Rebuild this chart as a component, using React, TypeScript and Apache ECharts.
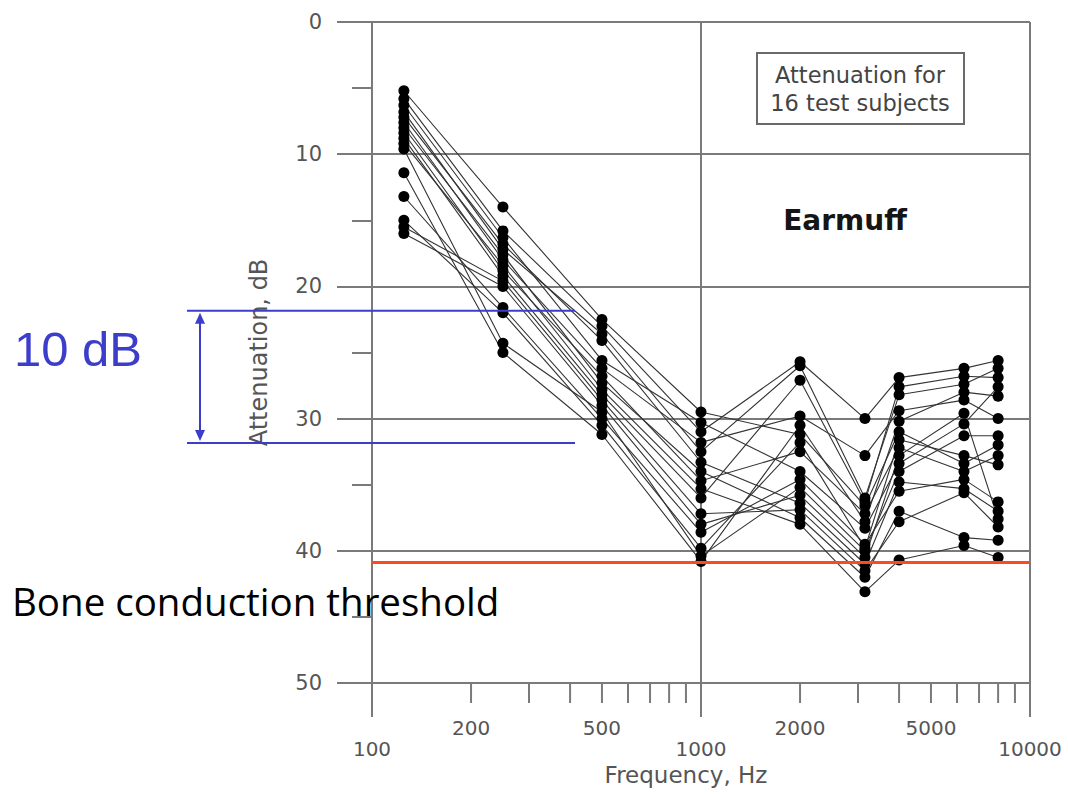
import React, { useEffect, useRef } from "react";
import * as echarts from "echarts";

// Test frequencies (Hz) at which attenuation was measured
const frequencies = [125, 250, 500, 1000, 2000, 3150, 4000, 6300, 8000];

// Attenuation (dB) per test subject, one value per frequency
const subject01 = [5.2, 14.0, 22.5, 29.5, 31.2, 36.6, 31.0, 33.4, 32.0];
const subject02 = [5.8, 15.8, 23.0, 31.0, 25.7, 30.0, 26.9, 26.2, 25.6];
const subject03 = [6.3, 16.3, 25.6, 30.3, 34.0, 38.3, 33.4, 30.4, 27.6];
const subject04 = [6.8, 17.2, 23.6, 32.5, 26.0, 36.0, 28.2, 27.4, 26.2];
const subject05 = [7.2, 16.8, 24.1, 33.3, 36.4, 41.0, 34.8, 35.3, 37.0];
const subject06 = [7.6, 18.0, 26.2, 31.8, 29.8, 32.8, 29.4, 28.6, 30.0];
const subject07 = [8.0, 17.6, 27.3, 34.0, 37.5, 42.0, 37.0, 39.0, 39.2];
const subject08 = [8.4, 18.8, 26.8, 34.7, 32.5, 37.2, 32.2, 34.0, 32.8];
const subject09 = [8.8, 19.2, 28.2, 36.0, 27.1, 36.3, 27.6, 26.8, 26.9];
const subject10 = [9.2, 18.4, 27.8, 35.3, 38.0, 43.1, 40.7, 39.6, 40.5];
const subject11 = [9.6, 24.3, 29.5, 40.4, 35.2, 40.0, 34.0, 31.3, 31.3];
const subject12 = [11.4, 25.0, 31.2, 40.8, 30.5, 37.8, 30.2, 28.0, 28.3];
const subject13 = [13.2, 21.6, 30.0, 38.6, 34.6, 39.5, 35.5, 34.6, 36.3];
const subject14 = [15.0, 22.0, 30.5, 39.8, 31.8, 39.8, 31.6, 32.8, 33.5];
const subject15 = [15.5, 19.6, 28.6, 37.2, 36.9, 41.5, 37.8, 35.6, 38.2];
const subject16 = [16.0, 20.0, 29.0, 38.0, 35.8, 40.5, 32.8, 29.6, 37.6];

const subjects = [
  subject01, subject02, subject03, subject04, subject05, subject06, subject07, subject08,
  subject09, subject10, subject11, subject12, subject13, subject14, subject15, subject16,
];

// Log-axis minor ticks and the intermediate labelled frequencies
const minorFrequencyTicks = [200, 300, 400, 500, 600, 700, 800, 900, 2000, 3000, 4000, 5000, 6000, 7000, 8000, 9000];
const intermediateFrequencyLabels = [200, 500, 2000, 5000];

// Reference levels (dB)
const boneConductionThreshold = 40.9;
const bracketTop = 21.85;
const bracketSpan = 10;

const AXIS_GREY = "#7a7a7a";
const LABEL_GREY = "#555555";
const TICK_FONT = "DejaVu Sans";
const BLUE = "#3d3dcc";

export default function App() {
  const ref = useRef<HTMLDivElement>(null);

  useEffect(() => {
    if (!ref.current) return;
    const chart = echarts.init(ref.current, null, { renderer: "svg" });

    const subjectSeries = subjects.map((values, idx) => ({
      name: `Subject ${idx + 1}`,
      type: "line",
      data: frequencies.map((f, i) => [f, values[i]]),
      symbol: "circle",
      symbolSize: 11,
      itemStyle: { color: "#000000" },
      lineStyle: { color: "#333333", width: 1.1 },
      z: 3,
      silent: true,
    }));

    chart.setOption({
      animation: false,
      grid: { left: 372, top: 22, right: 38, bottom: 114, containLabel: false },
      xAxis: {
        type: "log",
        logBase: 10,
        min: 100,
        max: 10000,
        splitNumber: 2,
        name: "Frequency, Hz",
        nameLocation: "middle",
        nameGap: 78,
        nameTextStyle: {
          fontFamily: TICK_FONT,
          fontSize: 23,
          color: LABEL_GREY,
          padding: [0, 30, 0, 0],
        },
        axisLine: { show: true, onZero: false, lineStyle: { color: AXIS_GREY, width: 2 } },
        axisTick: { show: true, inside: false, length: 34, lineStyle: { color: AXIS_GREY, width: 2 } },
        axisLabel: {
          margin: 56,
          fontFamily: TICK_FONT,
          fontSize: 20,
          color: LABEL_GREY,
          formatter: (v: number) => String(Math.round(v)),
        },
        splitLine: { show: true, lineStyle: { color: AXIS_GREY, width: 2 } },
      },
      yAxis: {
        type: "value",
        inverse: true,
        min: 0,
        max: 50,
        interval: 10,
        name: "Attenuation, dB",
        nameLocation: "middle",
        nameRotate: 90,
        nameGap: 101,
        nameTextStyle: { fontFamily: TICK_FONT, fontSize: 24, color: LABEL_GREY },
        axisLine: { show: true, onZero: false, lineStyle: { color: AXIS_GREY, width: 2 } },
        axisTick: { show: true, inside: false, length: 35, lineStyle: { color: AXIS_GREY, width: 2 } },
        minorTick: { show: true, splitNumber: 2, length: 20, lineStyle: { color: AXIS_GREY, width: 2 } },
        axisLabel: { margin: 50, fontFamily: TICK_FONT, fontSize: 21, color: LABEL_GREY },
        splitLine: { show: true, lineStyle: { color: AXIS_GREY, width: 2 } },
      },
      series: [
        ...subjectSeries,
        {
          name: "minor ticks",
          type: "custom",
          silent: true,
          clip: false,
          data: minorFrequencyTicks.map((f) => [f, 50]),
          renderItem: (_params: any, api: any) => {
            const p = api.coord([api.value(0), api.value(1)]);
            return {
              type: "line",
              shape: { x1: p[0], y1: p[1], x2: p[0], y2: p[1] + 20 },
              style: { stroke: AXIS_GREY, lineWidth: 2 },
            };
          },
        },
        {
          name: "intermediate labels",
          type: "custom",
          silent: true,
          clip: false,
          data: intermediateFrequencyLabels.map((f) => [f, 50]),
          renderItem: (_params: any, api: any) => {
            const v = api.value(0);
            const p = api.coord([v, api.value(1)]);
            return {
              type: "text",
              x: p[0],
              y: p[1] + 45,
              style: {
                text: String(v),
                align: "center",
                verticalAlign: "middle",
                fontFamily: TICK_FONT,
                fontSize: 20,
                fill: LABEL_GREY,
              },
            };
          },
        },
        {
          name: "Bone conduction threshold",
          type: "line",
          data: [],
          silent: true,
          z: 10,
          markLine: {
            silent: true,
            symbol: ["none", "none"],
            label: { show: false },
            lineStyle: { color: "#ff4a1f", width: 3, type: "solid" },
            data: [{ yAxis: boneConductionThreshold }],
            z: 10,
          },
        },
      ],
    });

    // Annotation overlay positioned from the y-axis scale
    const yTop = chart.convertToPixel({ yAxisIndex: 0 }, bracketTop) as number;
    const yBottom = chart.convertToPixel({ yAxisIndex: 0 }, bracketTop + bracketSpan) as number;
    const arrowX = 200;

    chart.setOption({
      graphic: [
        {
          type: "line",
          z: 20,
          shape: { x1: 187, y1: yTop, x2: 575, y2: yTop },
          style: { stroke: BLUE, lineWidth: 2 },
        },
        {
          type: "line",
          z: 20,
          shape: { x1: 187, y1: yBottom, x2: 575, y2: yBottom },
          style: { stroke: BLUE, lineWidth: 2 },
        },
        {
          type: "line",
          z: 20,
          shape: { x1: arrowX, y1: yTop + 4, x2: arrowX, y2: yBottom - 4 },
          style: { stroke: BLUE, lineWidth: 2 },
        },
        {
          type: "polygon",
          z: 20,
          shape: { points: [[arrowX, yTop + 2], [arrowX - 5, yTop + 13], [arrowX + 5, yTop + 13]] },
          style: { fill: BLUE },
        },
        {
          type: "polygon",
          z: 20,
          shape: { points: [[arrowX, yBottom - 2], [arrowX - 5, yBottom - 13], [arrowX + 5, yBottom - 13]] },
          style: { fill: BLUE },
        },
        {
          type: "text",
          z: 20,
          x: 14,
          y: 349,
          style: {
            text: "10 dB",
            fontFamily: "Liberation Sans",
            fontSize: 49,
            fill: BLUE,
            verticalAlign: "middle",
          },
        },
        {
          type: "text",
          z: 20,
          x: 12,
          y: 601,
          style: {
            text: "Bone conduction threshold",
            fontFamily: "Open Sans",
            fontSize: 38.5,
            fill: "#000000",
            verticalAlign: "middle",
          },
        },
        {
          type: "rect",
          z: 20,
          shape: { x: 757, y: 53, width: 207, height: 71 },
          style: { fill: "#ffffff", stroke: "#6a6a6a", lineWidth: 2 },
        },
        {
          type: "text",
          z: 21,
          x: 860,
          y: 89,
          style: {
            text: "Attenuation for\n16 test subjects",
            fontFamily: TICK_FONT,
            fontSize: 22.5,
            lineHeight: 28,
            fill: "#444444",
            align: "center",
            verticalAlign: "middle",
          },
        },
        {
          type: "text",
          z: 20,
          x: 845,
          y: 220,
          style: {
            text: "Earmuff",
            fontFamily: TICK_FONT,
            fontWeight: "bold",
            fontSize: 28,
            fill: "#151515",
            align: "center",
            verticalAlign: "middle",
          },
        },
      ],
    });

    return () => chart.dispose();
  }, []);

  return (
    <div
      ref={ref}
      style={{ position: "absolute", left: 0, top: 0, width: 1068, height: 797, background: "#ffffff" }}
    />
  );
}
